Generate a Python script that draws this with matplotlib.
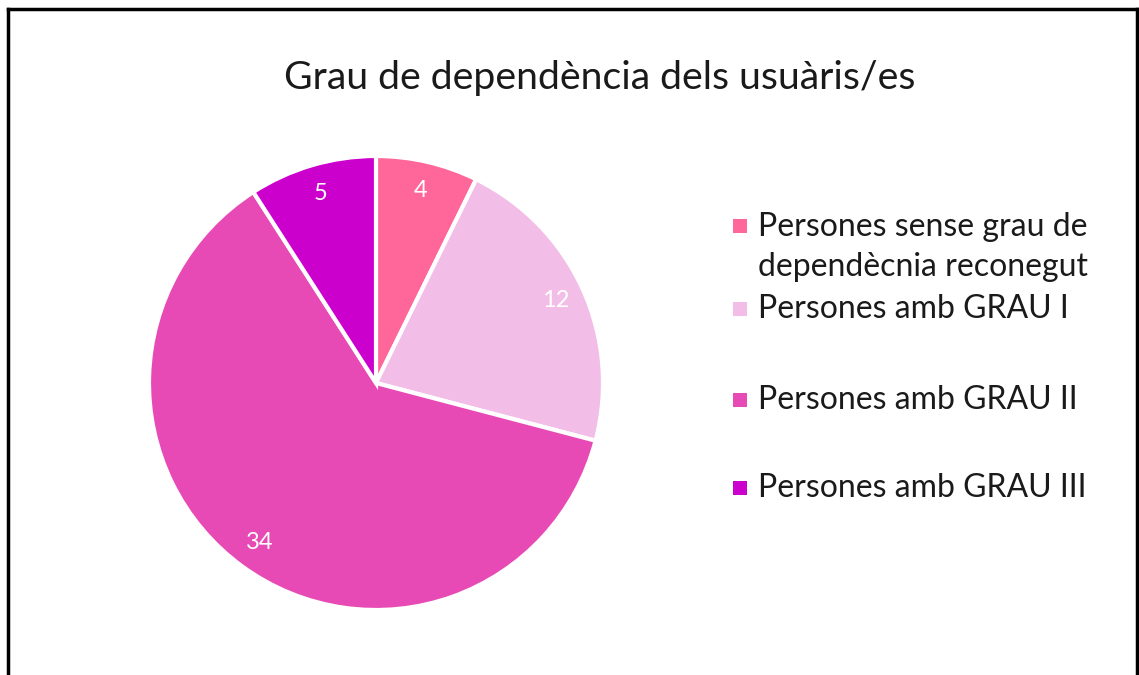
import matplotlib.pyplot as plt
from matplotlib.lines import Line2D
from matplotlib.patches import Rectangle

plt.rcParams["font.family"] = ["Lato", "DejaVu Sans"]

categories = [
    "Persones sense grau de\ndependècnia reconegut",
    "Persones amb GRAU I",
    "Persones amb GRAU II",
    "Persones amb GRAU III",
]
values = [4, 12, 34, 5]
colors = ["#FF6699", "#F2BDE6", "#E84AB5", "#CC00CC"]

W, H = 1139, 675
fig = plt.figure(figsize=(W / 100, H / 100), dpi=100)

# pie axes: centre (376, 383) px, radius 227 px
cx, cy, r = 376, 383, 227
ax = fig.add_axes([(cx - r) / W, (H - cy - r) / H, 2 * r / W, 2 * r / H])
wedges, texts = ax.pie(
    values,
    colors=colors,
    startangle=90,
    counterclock=False,
    labels=[str(v) for v in values],
    labeldistance=0.87,
    wedgeprops=dict(edgecolor="white", linewidth=3),
    textprops=dict(color="white", fontsize=17),
)
for t in texts:
    t.set_horizontalalignment("center")
    t.set_verticalalignment("center")
ax.set_xlim(-1, 1)
ax.set_ylim(-1, 1)
ax.set_aspect("equal")

fig.text(600 / W, 1 - 78 / H, "Grau de dependència dels usuàris/es",
         ha="center", va="center", fontsize=28.3, color="#1a1a1a")

# legend drawn by hand to mirror the irregular spacing
text_y = [247, 309, 400, 488]
square_y = [226, 309, 400, 488]
for label, color, ty, sy in zip(categories, colors, text_y, square_y):
    fig.add_artist(Rectangle((733 / W, 1 - (sy + 7) / H), 14 / W, 14 / H,
                             transform=fig.transFigure,
                             facecolor=color, edgecolor="none"))
    fig.text(758 / W, 1 - ty / H, label, ha="left", va="center",
             fontsize=23, color="#1a1a1a", linespacing=1.38)

# outer frame (left, top, right)
frame = dict(color="black", linewidth=2.5, transform=fig.transFigure)
fig.add_artist(Line2D([8 / W, 8 / W], [0, 1 - 9 / H], **frame))
fig.add_artist(Line2D([8 / W, 1137 / W], [1 - 9 / H, 1 - 9 / H], **frame))
fig.add_artist(Line2D([1137 / W, 1137 / W], [0, 1 - 9 / H], **frame))

fig.savefig("out.png", dpi=100)
